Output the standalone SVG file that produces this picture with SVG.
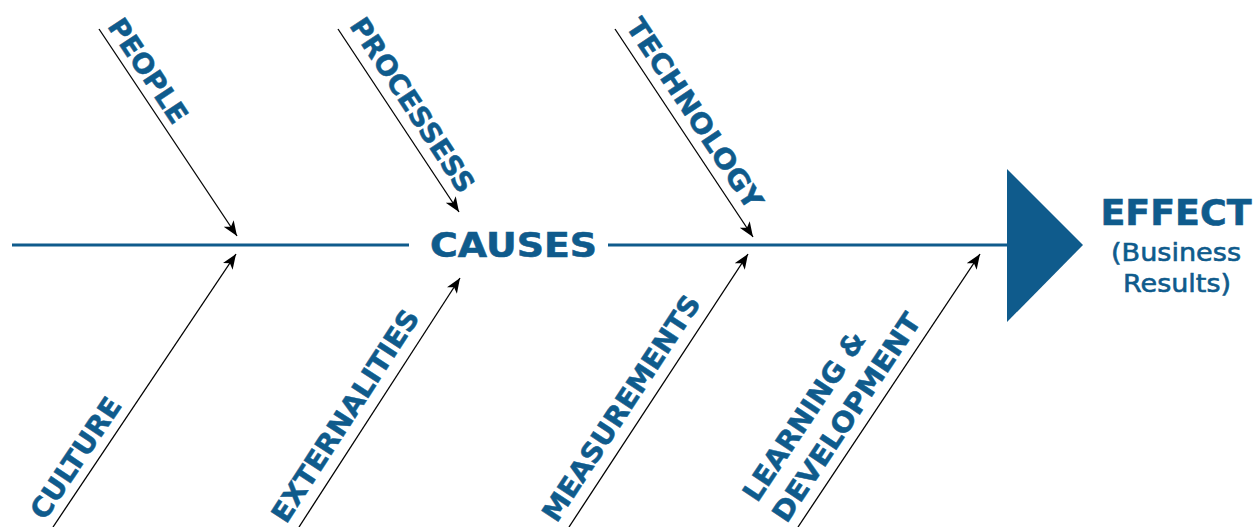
<svg xmlns="http://www.w3.org/2000/svg" width="1260" height="527" viewBox="0 0 1260 527">
  <style>
    .spine { stroke: #0f5b8c; stroke-width: 3; fill: none; }
    .bone { stroke: #000; stroke-width: 1.3; fill: none; marker-end: url(#head); }
    .label { font-family: "DejaVu Sans", "Liberation Sans", sans-serif; font-weight: 700; font-size: 27.5px; fill: #0f5b8c; stroke: #0f5b8c; stroke-width: 0.5; }
    .title { font-family: "DejaVu Sans", "Liberation Sans", sans-serif; font-weight: 700; fill: #0f5b8c; stroke: #0f5b8c; stroke-width: 0.6; text-anchor: middle; }
    .sub { font-family: "DejaVu Sans", "Liberation Sans", sans-serif; font-weight: 400; font-size: 25px; fill: #0f5b8c; stroke: #0f5b8c; stroke-width: 0.6; text-anchor: middle; }
  </style>
  <defs>
    <marker id="head" markerUnits="userSpaceOnUse" markerWidth="18" markerHeight="14" refX="15" refY="6" orient="auto">
      <path d="M0,0 L15,6 L0,12 L4,6 Z" fill="#000"/>
    </marker>
  </defs>
  <rect width="1260" height="527" fill="#fff"/>

  <!-- spine and head -->
  <g id="spine">
    <line class="spine" x1="12" y1="245" x2="409" y2="245"/>
    <line class="spine" x1="608" y1="245" x2="1010" y2="245"/>
  </g>
  <g id="effect">
    <polygon points="1007,169 1083,245 1007,322" fill="#0f5b8c"/>
    <text class="title" x="1176" y="225" font-size="35" textLength="151" lengthAdjust="spacingAndGlyphs">EFFECT</text>
    <text class="sub" x="1176" y="261" textLength="130" lengthAdjust="spacingAndGlyphs">(Business</text>
    <text class="sub" x="1177" y="292" textLength="108" lengthAdjust="spacingAndGlyphs">Results)</text>
  </g>
  <g id="causes">
    <text class="title" x="513.5" y="257" font-size="34" textLength="167" lengthAdjust="spacingAndGlyphs">CAUSES</text>
  </g>

  <!-- cause arrows -->
  <g id="connectors">
    <line class="bone" x1="99" y1="29" x2="237" y2="236"/>
    <line class="bone" x1="338" y1="29" x2="459" y2="212"/>
    <line class="bone" x1="615" y1="29" x2="753" y2="237"/>
    <line class="bone" x1="53" y1="527" x2="236" y2="254"/>
    <line class="bone" x1="299" y1="527" x2="460" y2="278"/>
    <line class="bone" x1="569" y1="527" x2="748" y2="254"/>
    <line class="bone" x1="798" y1="527" x2="980" y2="254"/>
  </g>

  <!-- cause labels, each set along its arrow -->
  <g id="people" transform="translate(99,29) rotate(56.31)">
    <text class="label" x="2" y="-8" textLength="120" lengthAdjust="spacingAndGlyphs">PEOPLE</text>
  </g>
  <g id="processes" transform="translate(338,29) rotate(56.75)">
    <text class="label" x="3" y="-11" textLength="203" lengthAdjust="spacingAndGlyphs">PROCESSESS</text>
  </g>
  <g id="technology" transform="translate(615,29) rotate(56.44)">
    <text class="label" x="3" y="-10" textLength="223" lengthAdjust="spacingAndGlyphs">TECHNOLOGY</text>
  </g>
  <g id="culture" transform="translate(53,527) rotate(-56.17)">
    <text class="label" x="0" y="-10" textLength="140" lengthAdjust="spacingAndGlyphs">CULTURE</text>
  </g>
  <g id="externalities" transform="translate(299,527) rotate(-57.11)">
    <text class="label" x="-5" y="-12" textLength="247" lengthAdjust="spacingAndGlyphs">EXTERNALITIES</text>
  </g>
  <g id="measurements" transform="translate(569,527) rotate(-56.75)">
    <text class="label" x="-4" y="-12" textLength="264" lengthAdjust="spacingAndGlyphs">MEASUREMENTS</text>
  </g>
  <g id="learning" transform="translate(798,527) rotate(-56.31)">
    <text class="label" x="-3" y="-47" textLength="197" lengthAdjust="spacingAndGlyphs">LEARNING &amp;</text>
    <text class="label" x="-4" y="-11" textLength="244" lengthAdjust="spacingAndGlyphs">DEVELOPMENT</text>
  </g>
</svg>
